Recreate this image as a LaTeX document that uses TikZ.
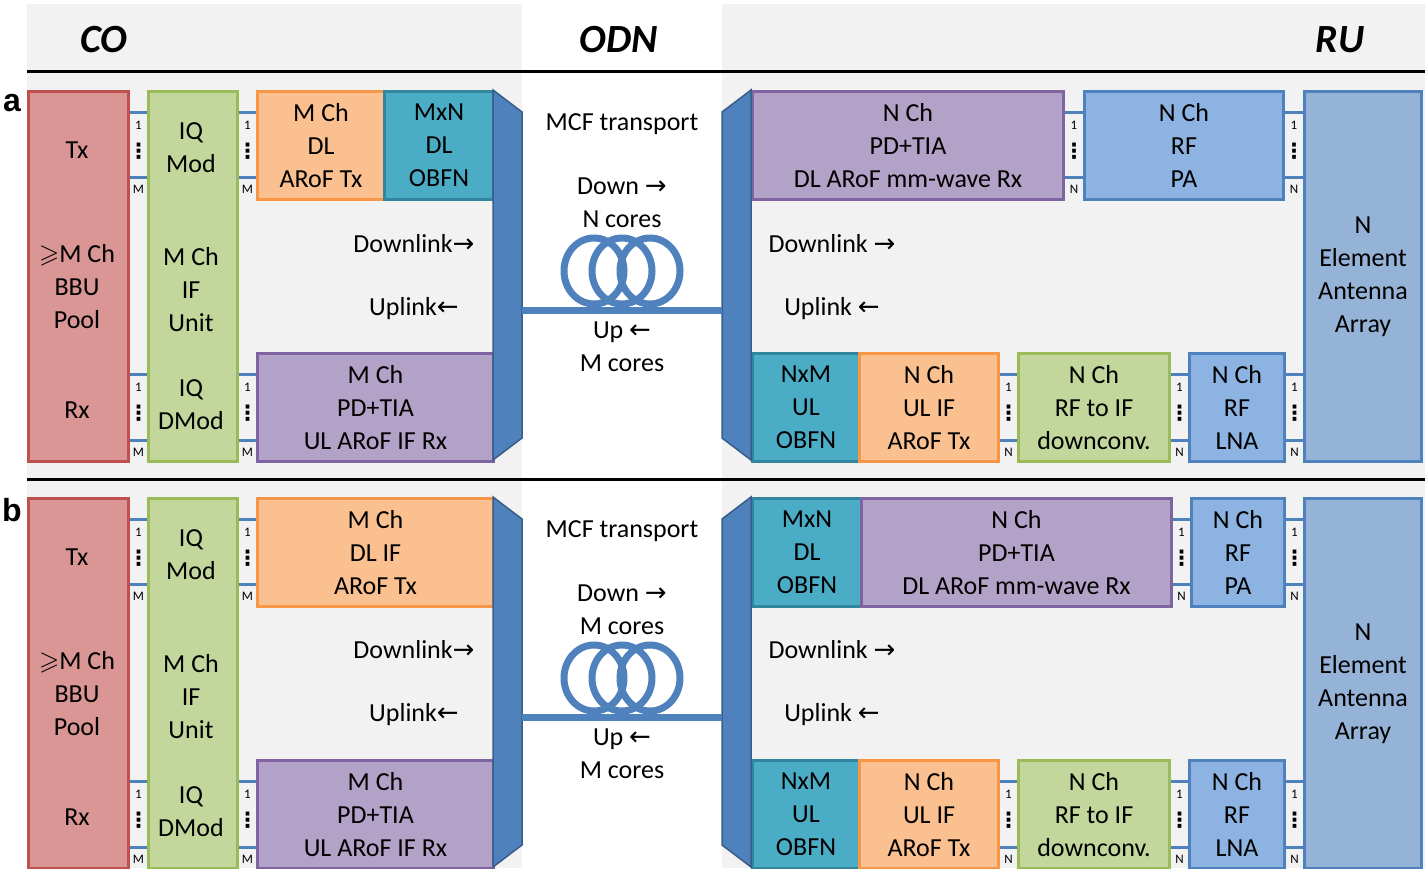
\documentclass[tikz,border=0pt]{standalone}
\usepackage{fontspec}
\usepackage{amssymb}
\setmainfont{Carlito}
\newfontfamily\djv{DejaVu Sans}
\newfontfamily\arl{Liberation Sans}
\usetikzlibrary{calc}
\definecolor{bbuF}{HTML}{D99694}\definecolor{bbuD}{HTML}{C0504D}
\definecolor{iqF}{HTML}{C3D69B}\definecolor{iqD}{HTML}{9BBB59}
\definecolor{orF}{HTML}{FAC090}\definecolor{orD}{HTML}{F79646}
\definecolor{tlF}{HTML}{4BACC6}\definecolor{tlD}{HTML}{31859C}
\definecolor{puF}{HTML}{B3A2C7}\definecolor{puD}{HTML}{8064A2}
\definecolor{rfF}{HTML}{8DB3E2}\definecolor{rfD}{HTML}{4F81BD}
\definecolor{anF}{HTML}{95B3D7}\definecolor{anD}{HTML}{4F81BD}
\definecolor{mxF}{HTML}{4F81BD}\definecolor{mxD}{HTML}{385D8A}
\definecolor{bgc}{HTML}{F2F2F2}
\newcommand\arr[1]{{\djv #1}}
\newcommand\bx[7]{\node[blk,fill=#2F,draw=#2D,minimum width={#5-#3},minimum height={#6-#4}] (#1) at (#3,#4) {#7};}
\newcommand\lk[5]{%
 \draw[link] (#1.east |- 0,#3) -- (#2.west |- 0,#3);
 \draw[link] (#1.east |- 0,#4) -- (#2.west |- 0,#4);
 \path (#1.east |- 0,#3) -- (#2.west |- 0,#3) coordinate[midway] (#1#2m);
 \node[tinyl] (#1#2a) at ($(#1#2m)+(0,13)$) {1};
 \node[dotl] (#1#2b) at ($(#1#2m)+(0,39)$) {⋮};
 \node[tinyl] (#1#2c) at ($(#1#2m)+(0,#4-#3+12)$) {#5};
}
\tikzset{
 blk/.style={rectangle,line width=3,inner sep=0,anchor=north west,align=center,font=\fontsize{26}{33}\selectfont},
 link/.style={draw=rfD,line width=3},
 tinyl/.style={inner sep=0,font=\fontsize{13}{13}\selectfont},
 dotl/.style={inner sep=0,font=\djv\bfseries\fontsize{21}{21}\selectfont},
 txt/.style={inner sep=0,align=center,font=\fontsize{26}{33}\selectfont},
 hdr/.style={inner sep=0,font=\bfseries\itshape\fontsize{40}{40}\selectfont},
 lbl/.style={inner sep=0,font=\arl\bfseries\fontsize{32}{32}\selectfont},
 mux/.style={fill=mxF,draw=mxD,line width=1.5,line join=miter},
 coil/.style={draw=mxF,line width=7},
 fib/.style={draw=mxF,line width=7},
 sep/.style={draw=black,line width=3},
}
\begin{document}
\begin{tikzpicture}[x=1pt,y=-1pt]
\useasboundingbox (0,0) rectangle (1425,868);
\fill[bgc] (27,4) rectangle (522,868);
\fill[bgc] (722,4) rectangle (1425,868);
\draw[sep] (27,71) -- (1425,71);
\draw[sep] (27,479) -- (1425,479);
\node[hdr] (hco) at (104,40) {CO};
\node[hdr] (hodn) at (619,40) {ODN};
\node[hdr] (hru) at (1340,40) {RU};
\node[lbl] (la) at (12,103) {a};
\node[lbl] (lb) at (12,510) {b};
% ---------------- row a ----------------
\bx{bbua}{bbu}{27}{90}{127}{460}{}
\node[txt] (bbuatx) at (77,150) {Tx};
\node[txt] (bbuamid) at (77,287) {$\geqslant$M Ch\\BBU\\Pool};
\node[txt] (bbuarx) at (77,410) {Rx};
\bx{iqa}{iq}{147}{90}{236}{460}{}
\node[txt] (iqamod) at (191,148) {IQ\\Mod};
\node[txt] (iqamid) at (191,290) {M Ch\\IF\\Unit};
\node[txt] (iqadm) at (191,405) {IQ\\DMod};
\bx{dlta}{or}{256}{90}{383}{198}{M Ch\\DL\\ARoF Tx}
\bx{obfa}{tl}{383}{90}{492}{198}{MxN\\DL\\OBFN}
\bx{ulra}{pu}{256}{352}{492}{460}{M Ch\\PD+TIA\\UL ARoF IF Rx}
\lk{bbua}{iqa}{112}{177}{M}
\lk{iqa}{dlta}{112}{177}{M}
\lk{bbua}{iqa}{374}{440}{M}
\lk{iqa}{ulra}{374}{440}{M}
\bx{dlra}{pu}{751}{90}{1062}{198}{N Ch\\PD+TIA\\DL ARoF mm-wave Rx}
\bx{paa}{rf}{1083}{90}{1282}{198}{N Ch\\RF\\PA}
\bx{anta}{an}{1303}{90}{1420}{460}{N\\Element\\Antenna\\Array}
\lk{dlra}{paa}{112}{177}{N}
\lk{paa}{anta}{112}{177}{N}
\bx{uobfa}{tl}{751}{352}{858}{460}{NxM\\UL\\OBFN}
\bx{ulta}{or}{858}{352}{997}{460}{N Ch\\UL IF\\ARoF Tx}
\bx{dca}{iq}{1017}{352}{1168}{460}{N Ch\\RF to IF\\downconv.}
\bx{lnaa}{rf}{1188}{352}{1283}{460}{N Ch\\RF\\LNA}
\lk{ulta}{dca}{374}{440}{N}
\lk{dca}{lnaa}{374}{440}{N}
\lk{lnaa}{anta}{374}{440}{N}
\draw[mux] (493,90) -- (522,112) -- (522,438) -- (493,460) -- cycle;
\draw[mux] (751,90) -- (722,112) -- (722,438) -- (751,460) -- cycle;
\coordinate (fla) at (522,310);
\coordinate (fra) at (722,310);
\draw[coil] (594,271) circle [x radius=30pt,y radius=33pt];
\draw[coil] (622,271) circle [x radius=30pt,y radius=33pt];
\draw[coil] (650,271) circle [x radius=30pt,y radius=33pt];
\draw[fib] (fla) -- (fra);
\node[txt] (mcfa) at (622,124) {MCF transport};
\node[txt] (downa) at (622,203) {Down \arr{→}\\N cores};
\node[txt] (upa) at (622,347) {Up \arr{←}\\M cores};
\node[txt] (dlla) at (414,244) {Downlink\arr{→}};
\node[txt] (ulla) at (414,309) {Uplink\arr{←}};
\node[txt] (dlra2) at (832,244) {Downlink \arr{→}};
\node[txt] (ulra2) at (832,309) {Uplink \arr{←}};
% ---------------- row b ----------------
\bx{bbub}{bbu}{27}{497}{127}{867}{}
\node[txt] (bbubtx) at (77,557) {Tx};
\node[txt] (bbubmid) at (77,694) {$\geqslant$M Ch\\BBU\\Pool};
\node[txt] (bbubrx) at (77,817) {Rx};
\bx{iqb}{iq}{147}{497}{236}{867}{}
\node[txt] (iqbmod) at (191,555) {IQ\\Mod};
\node[txt] (iqbmid) at (191,697) {M Ch\\IF\\Unit};
\node[txt] (iqbdm) at (191,812) {IQ\\DMod};
\bx{dltb}{or}{256}{497}{492}{605}{M Ch\\DL IF\\ARoF Tx}
\bx{ulrb}{pu}{256}{759}{492}{867}{M Ch\\PD+TIA\\UL ARoF IF Rx}
\lk{bbub}{iqb}{519}{584}{M}
\lk{iqb}{dltb}{519}{584}{M}
\lk{bbub}{iqb}{781}{847}{M}
\lk{iqb}{ulrb}{781}{847}{M}
\bx{obfb}{tl}{751}{497}{860}{605}{MxN\\DL\\OBFN}
\bx{dlrb}{pu}{860}{497}{1170}{605}{N Ch\\PD+TIA\\DL ARoF mm-wave Rx}
\bx{pab}{rf}{1190}{497}{1283}{605}{N Ch\\RF\\PA}
\bx{antb}{an}{1303}{497}{1420}{867}{N\\Element\\Antenna\\Array}
\lk{dlrb}{pab}{519}{584}{N}
\lk{pab}{antb}{519}{584}{N}
\bx{uobfb}{tl}{751}{759}{858}{867}{NxM\\UL\\OBFN}
\bx{ultb}{or}{858}{759}{997}{867}{N Ch\\UL IF\\ARoF Tx}
\bx{dcb}{iq}{1017}{759}{1168}{867}{N Ch\\RF to IF\\downconv.}
\bx{lnab}{rf}{1188}{759}{1283}{867}{N Ch\\RF\\LNA}
\lk{ultb}{dcb}{781}{847}{N}
\lk{dcb}{lnab}{781}{847}{N}
\lk{lnab}{antb}{781}{847}{N}
\draw[mux] (493,497) -- (522,519) -- (522,845) -- (493,867) -- cycle;
\draw[mux] (751,497) -- (722,519) -- (722,845) -- (751,867) -- cycle;
\coordinate (flb) at (522,717);
\coordinate (frb) at (722,717);
\draw[coil] (594,678) circle [x radius=30pt,y radius=33pt];
\draw[coil] (622,678) circle [x radius=30pt,y radius=33pt];
\draw[coil] (650,678) circle [x radius=30pt,y radius=33pt];
\draw[fib] (flb) -- (frb);
\node[txt] (mcfb) at (622,531) {MCF transport};
\node[txt] (downb) at (622,610) {Down \arr{→}\\M cores};
\node[txt] (upb) at (622,754) {Up \arr{←}\\M cores};
\node[txt] (dllb) at (414,650) {Downlink\arr{→}};
\node[txt] (ullb) at (414,715) {Uplink\arr{←}};
\node[txt] (dlrb2) at (832,650) {Downlink \arr{→}};
\node[txt] (ulrb2) at (832,715) {Uplink \arr{←}};
\end{tikzpicture}
\end{document}
